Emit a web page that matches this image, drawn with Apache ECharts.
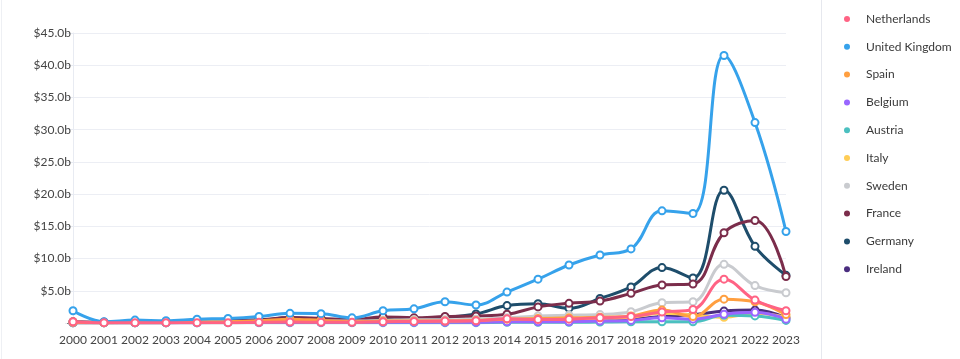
<!DOCTYPE html>
<html>
<head>
<meta charset="utf-8">
<script src="https://cdn.jsdelivr.net/npm/echarts@6/dist/echarts.min.js"></script>
<style>html,body{margin:0;padding:0;background:#fff}#c{width:960px;height:359px}</style>
</head>
<body>
<div id="c"></div>
<script>
const years = ['2000','2001','2002','2003','2004','2005','2006','2007','2008','2009','2010','2011','2012','2013','2014','2015','2016','2017','2018','2019','2020','2021','2022','2023'];
const countries = ['Netherlands','United Kingdom','Spain','Belgium','Austria','Italy','Sweden','France','Germany','Ireland'];
const colors = ['#ff6384','#36a2eb','#ff9f40','#9966ff','#4bc0c0','#ffcd56','#c9cbcf','#7b2d4b','#1e4d6b','#4a2d7f'];
const netherlands = [0.2,0.05,0.05,0.05,0.05,0.05,0.1,0.15,0.1,0.1,0.2,0.25,0.3,0.35,0.65,0.55,0.6,0.8,1.0,1.7,2.1,6.8,3.55,1.9];
const unitedKingdom = [1.9,0.2,0.45,0.35,0.6,0.7,1.0,1.5,1.45,0.8,1.9,2.2,3.3,2.8,4.8,6.8,9.0,10.55,11.5,17.4,17.0,41.5,31.1,14.2];
const spain = [0.1,0.05,0.1,0.1,0.15,0.2,0.3,0.6,0.4,0.2,0.3,0.3,0.3,0.4,0.6,0.7,0.8,0.9,1.1,2.0,1.0,3.7,3.3,1.3];
const belgium = [0.05,0.05,0.05,0.05,0.05,0.1,0.1,0.1,0.1,0.1,0.1,0.1,0.1,0.1,0.2,0.2,0.2,0.3,0.4,0.8,0.6,1.35,1.65,0.6];
const austria = [0.02,0.02,0.02,0.02,0.02,0.05,0.05,0.05,0.05,0.05,0.05,0.05,0.05,0.05,0.1,0.1,0.1,0.15,0.2,0.2,0.2,1.2,1.1,0.4];
const italy = [0.05,0.05,0.05,0.05,0.1,0.1,0.1,0.2,0.1,0.1,0.2,0.2,0.2,0.3,0.4,0.5,0.6,0.7,0.9,1.5,1.2,0.9,1.5,0.9];
const sweden = [0.1,0.05,0.1,0.1,0.2,0.2,0.3,0.4,0.3,0.3,0.4,0.5,0.5,0.6,0.8,1.1,1.2,1.3,1.75,3.15,3.3,9.1,5.8,4.7];
const france = [0.2,0.1,0.1,0.2,0.3,0.4,0.5,0.85,0.7,0.5,0.95,0.8,1.0,1.1,1.35,2.5,3.05,3.4,4.6,5.9,6.05,14.0,15.9,7.2];
const germany = [0.1,0.1,0.1,0.1,0.2,0.3,0.4,0.8,0.6,0.4,0.7,0.7,0.9,1.4,2.7,3.0,2.3,3.8,5.6,8.6,7.0,20.6,11.9,7.4];
const ireland = [0.05,0.05,0.05,0.05,0.1,0.1,0.1,0.2,0.2,0.1,0.2,0.2,0.2,0.3,0.3,0.4,0.4,0.5,0.6,1.0,1.3,1.85,2.0,0.8];
const values = [netherlands,unitedKingdom,spain,belgium,austria,italy,sweden,france,germany,ireland];

const font = 'Lato';
const series = countries.map((name,i)=>({
  name, type:'line', data: values[i], smooth:0.4,
  symbol:'emptyCircle', symbolSize:7,
  z: i===0 ? 20 : 10 - i,
  lineStyle:{width:3,color:colors[i]},
  itemStyle:{color:colors[i],borderWidth:2.2},
  emphasis:{disabled:true}
}));

const chart = echarts.init(document.getElementById('c'),null,{renderer:'canvas'});
chart.setOption({
  animation:false,
  color: colors,
  textStyle:{fontFamily:font},
  grid:{left:73,right:174,top:33,bottom:36,containLabel:false},
  legend:{
    orient:'vertical', left:839, top:7, data:countries,
    icon:'circle', itemWidth:6, itemHeight:6, itemGap:13.8,
    textStyle:{fontFamily:font,fontSize:12,color:'#3a3a3a',padding:[0,0,0,11],lineHeight:14}
  },
  xAxis:{
    type:'category', data:years, boundaryGap:false,
    axisLine:{show:false}, axisTick:{show:false},
    axisLabel:{color:'#444',fontSize:12,fontFamily:font,margin:11,interval:0},
    splitLine:{show:false}
  },
  yAxis:{
    type:'value', min:0, max:45, interval:5,
    axisLine:{show:true,lineStyle:{color:'#e8ebf2'}},
    axisTick:{show:true,length:8,lineStyle:{color:'#e8ebf2'}},
    axisLabel:{color:'#444',fontSize:12,fontFamily:font,margin:2,
      formatter:v=> v===0 ? '-' : '$'+v.toFixed(1)+'b'},
    splitLine:{lineStyle:{color:'#eceef4'}}
  },
  graphic:[
    {type:'line',shape:{x1:821.5,y1:0,x2:821.5,y2:359},style:{stroke:'#e6e8ee',lineWidth:1}},
    {type:'line',shape:{x1:1.5,y1:0,x2:1.5,y2:359},style:{stroke:'#eef0f4',lineWidth:1}}
  ],
  series
});
</script>
</body>
</html>
